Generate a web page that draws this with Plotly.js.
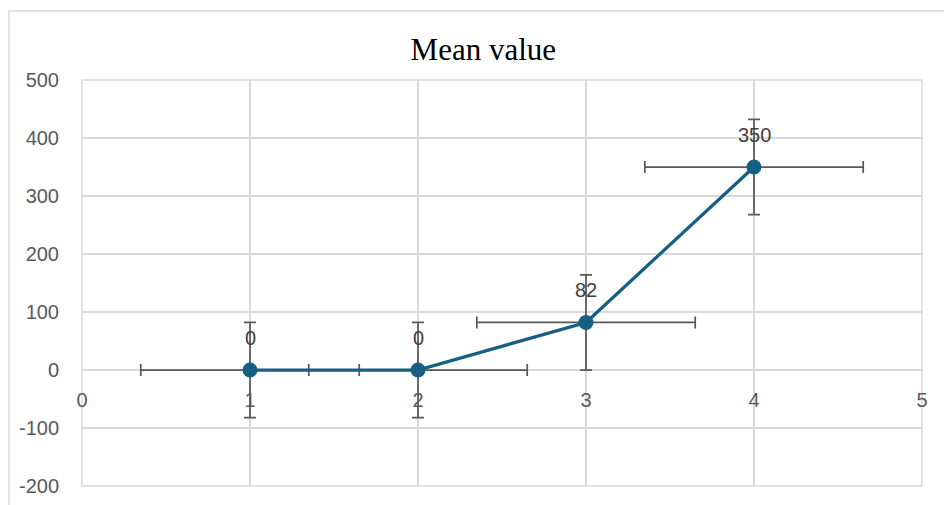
<!DOCTYPE html>
<html>
<head>
<meta charset="utf-8">
<script src="https://cdn.plot.ly/plotly-3.0.1.min.js"></script>
<style>html,body{margin:0;padding:0;background:#fff;}#chart{width:944px;height:505px;}</style>
</head>
<body>
<div id="chart"></div>
<script>
const xValues = [1, 2, 3, 4];
const meanValues = [0, 0, 82, 350];
const yErrors = [82, 82, 82, 82];
const xErrors = [0.65, 0.65, 0.65, 0.65];
const xTicks = [0, 1, 2, 3, 4, 5];
const yTicks = [-200, -100, 0, 100, 200, 300, 400, 500];

const grid = '#d9d9d9';
const tickFont = {family: 'Liberation Sans, Arial, sans-serif', size: 20, color: '#595959'};

const errTrace = {
  x: xValues, y: meanValues, type: 'scatter', mode: 'markers',
  marker: {color: 'rgba(0,0,0,0)', size: 1},
  error_y: {type: 'data', array: yErrors, visible: true, color: '#595959', thickness: 1.75, width: 6},
  error_x: {type: 'data', array: xErrors, visible: true, color: '#595959', thickness: 1.75, width: 6},
  hoverinfo: 'skip', showlegend: false
};
const lineTrace = {
  x: xValues, y: meanValues, type: 'scatter', mode: 'lines+markers',
  line: {color: '#156082', width: 3.25},
  marker: {color: '#156082', size: 15},
  showlegend: false
};

const annotations = xValues.map((x, i) => ({
  x: x, y: meanValues[i], xref: 'x', yref: 'y',
  text: String(meanValues[i]), showarrow: false, yshift: 32,
  font: {family: 'Liberation Sans, Arial, sans-serif', size: 20, color: '#404040'}
}));

const layout = {
  width: 944, height: 505,
  margin: {l: 82, r: 22, t: 80, b: 19},
  paper_bgcolor: '#fff', plot_bgcolor: '#fff',
  showlegend: false,
  title: {text: 'Mean value', font: {family: 'Liberation Serif, Times New Roman, serif', size: 31, color: '#000'},
          x: 0.512, xanchor: 'center', y: 0.902, yanchor: 'middle', yref: 'container'},
  xaxis: {
    range: [0, 5], tickvals: xTicks, ticktext: xTicks.map(String),
    showgrid: true, gridcolor: grid, gridwidth: 1.5,
    zeroline: false, showline: false, ticks: '',
    anchor: 'free', position: 200 / 700,
    tickfont: tickFont, ticklabelstandoff: 16
  },
  yaxis: {
    range: [-200, 500], tickvals: yTicks, ticktext: yTicks.map(String),
    showgrid: true, gridcolor: grid, gridwidth: 1.5,
    zeroline: true, zerolinecolor: grid, zerolinewidth: 1.5,
    showline: false, ticks: '',
    tickfont: tickFont, ticklabelstandoff: 22
  },
  shapes: [
    {type: 'rect', xref: 'paper', yref: 'paper', x0: 0, x1: 1, y0: 0, y1: 1,
     line: {color: grid, width: 1.5}, layer: 'below'},
    {type: 'rect', xref: 'paper', yref: 'paper', x0: (9 - 82) / 840, x1: 1.2, y0: -0.3, y1: (486 - 11) / 406,
     line: {color: grid, width: 1.5}, layer: 'below'}
  ],
  annotations: annotations
};

Plotly.newPlot('chart', [errTrace, lineTrace], layout, {displayModeBar: false, staticPlot: true});
</script>
</body>
</html>
